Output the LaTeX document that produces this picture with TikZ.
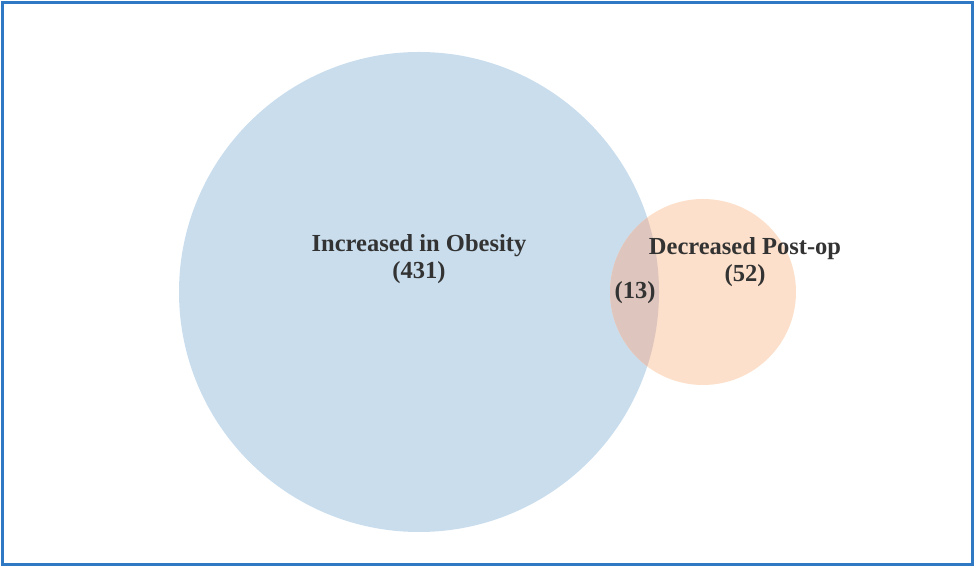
\documentclass[tikz,border=0pt]{standalone}
\usepackage{fontspec}
\setmainfont{Liberation Serif}
\usepackage{xcolor}
\usepackage{tikz}
\usetikzlibrary{positioning}
\definecolor{framblue}{RGB}{46,120,196}
\definecolor{obesblue}{RGB}{201,221,237}
\definecolor{postorange}{RGB}{252,224,203}
\definecolor{overlapmix}{RGB}{222,198,190}
\definecolor{labelgray}{RGB}{51,51,51}

\begin{document}
\begin{tikzpicture}[x=1pt, y=1pt,
    setlabel/.style={text=labelgray, font=\fontsize{24.5}{27}\selectfont\bfseries,
                     align=center, inner sep=0pt},
    frame/.style={draw=framblue, line width=3.5pt}
  ]
    \useasboundingbox (0,0) rectangle (975,567);
    \draw[frame] (2.5,2.5) rectangle (972.5,564.5);
    % the two sets
    \fill[obesblue] (419,275) circle (240);
    \fill[postorange] (703,275) circle (93);
    \begin{scope}
      \clip (419,275) circle (240);
      \fill[overlapmix] (703,275) circle (93);
    \end{scope}
    % labels
    \node[setlabel] at (419,308) (obes) {Increased in Obesity\\(431)};
    \node[setlabel] at (745,305) (postop) {Decreased Post-op\\(52)};
    \node[setlabel] at (635,274) (both) {(13)};
  \end{tikzpicture}
\end{document}
